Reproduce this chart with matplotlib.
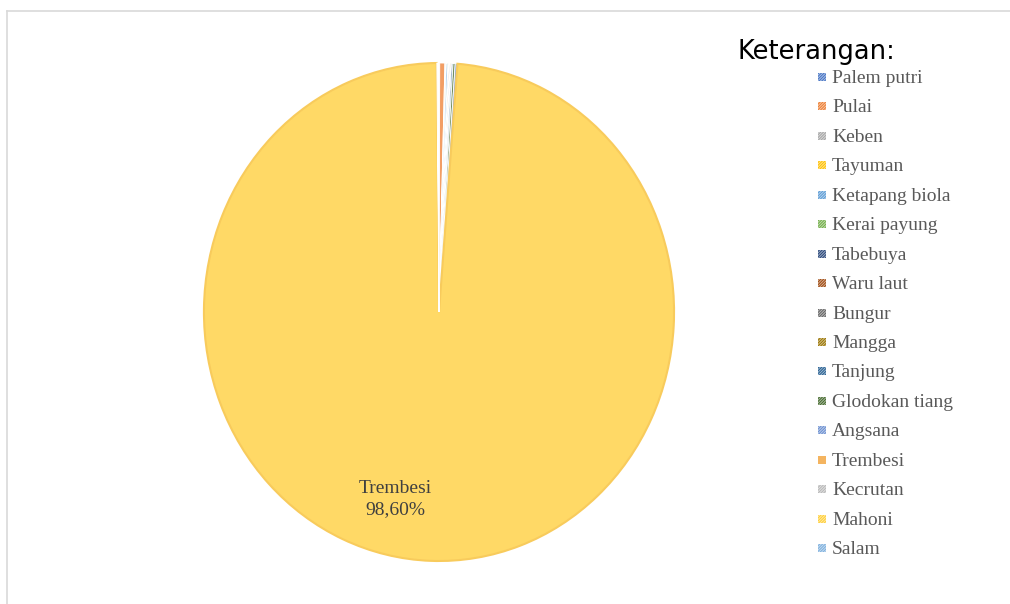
import matplotlib
matplotlib.use("Agg")
import matplotlib.pyplot as plt
from matplotlib.patches import Rectangle
from matplotlib.lines import Line2D
import matplotlib.colors as mcolors

categories = ["Palem putri", "Pulai", "Keben", "Tayuman", "Ketapang biola",
              "Kerai payung", "Tabebuya", "Waru laut", "Bungur", "Mangga",
              "Tanjung", "Glodokan tiang", "Angsana", "Trembesi", "Kecrutan",
              "Mahoni", "Salam"]
values = [0.05, 0.35, 0.05, 0.05, 0.10, 0.05, 0.05, 0.05, 0.05, 0.05,
          0.10, 0.15, 0.15, 98.60, 0.05, 0.05, 0.05]
colors = ["#4472C4", "#ED7D31", "#A5A5A5", "#FFC000", "#5B9BD5", "#70AD47",
          "#264478", "#9E480E", "#636363", "#997300", "#255E91", "#43682B",
          "#698ED0", "#F4B460", "#B7B7B7", "#FFCD33", "#7CAFDD"]
big_label = "Trembesi\n98,60%"
pie_big_color = "#FFD966"

plt.rcParams["hatch.linewidth"] = 0.7

W, H = 1010, 604
fig = plt.figure(figsize=(W / 100, H / 100), dpi=100)
fig.patch.set_facecolor("white")

# light frame (top and left)
fig.add_artist(Line2D([7 / W, 1], [1 - 11 / H, 1 - 11 / H], color="#D9D9D9", lw=1.2))
fig.add_artist(Line2D([7 / W, 7 / W], [0, 1 - 11 / H], color="#D9D9D9", lw=1.2))

ax = fig.add_axes([203 / W, (H - 562) / H, 472 / W, 500 / H])


def light(c, f=0.45):
    r, g, b = mcolors.to_rgb(c)
    return (r + (1 - r) * f, g + (1 - g) * f, b + (1 - b) * f)


big_idx = values.index(max(values))
face = [pie_big_color if i == big_idx else light(c, 0.25) for i, c in enumerate(colors)]
wedges, _ = ax.pie(values, colors=face, startangle=90, counterclock=False,
                   wedgeprops=dict(edgecolor="white", linewidth=0.6))
wedges[big_idx].set_edgecolor("#F8CB5C")
wedges[big_idx].set_linewidth(1.5)
ax.set_aspect("auto")
ax.set_xlim(-1.004, 1.004)
ax.set_ylim(-1.004, 1.004)
ax.axis("off")

ax.text(-0.186, -0.75, big_label, ha="center", va="center",
        fontsize=14, family="Liberation Serif", color="#404040", linespacing=1.3)

# legend
fig.text(737 / W, 1 - 52 / H, "Keterangan:", ha="left", va="center",
         fontsize=18.5, family="DejaVu Sans", color="black")
step = 29.44
for i, (cat, c) in enumerate(zip(categories, colors)):
    yb = 83 + i * step  # baseline in px from top
    if i == big_idx:
        rect = Rectangle((818 / W, 1 - (yb - 2) / H), 8 / W, 8 / H,
                         transform=fig.transFigure, facecolor=c, edgecolor="none")
    else:
        rect = Rectangle((818 / W, 1 - (yb - 2) / H), 8 / W, 8 / H,
                         transform=fig.transFigure, facecolor=light(c, 0.55),
                         edgecolor=c, linewidth=0, hatch="/" * 12)
    fig.add_artist(rect)
    fig.text(832 / W, 1 - yb / H, cat, ha="left", va="baseline",
             fontsize=14, family="Liberation Serif", color="#595959")

fig.savefig("out.png", dpi=100)
